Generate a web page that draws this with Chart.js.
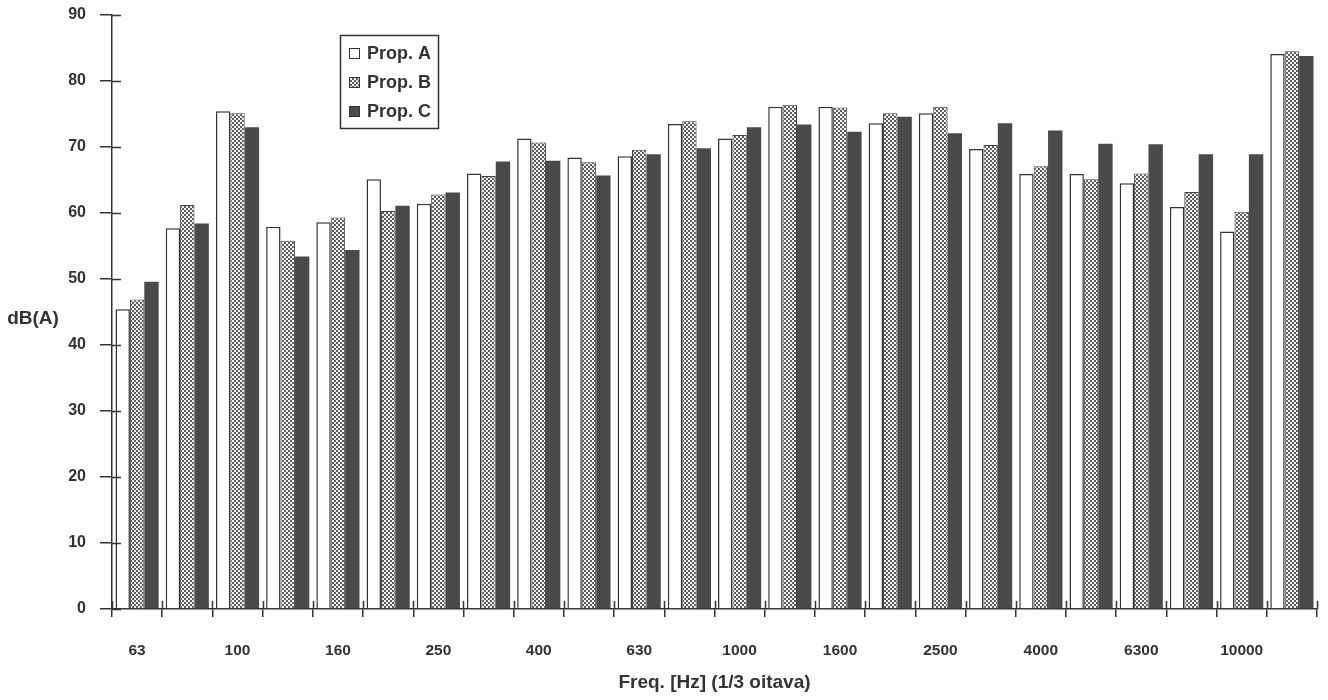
<!DOCTYPE html>
<html>
<head>
<meta charset="utf-8">
<script src="https://cdn.jsdelivr.net/npm/chart.js@4/dist/chart.umd.min.js"></script>
<style>
  html, body { margin: 0; padding: 0; background: #fff; }
</style>
</head>
<body>
<canvas id="freqcanvas" width="1328" height="700"></canvas>
<script>
// 1/3 octave bands
var categories = ['63', '80', '100', '125', '160', '200', '250', '315', '400', '500', '630', '800',
                  '1000', '1250', '1600', '2000', '2500', '3150', '4000', '5000', '6300', '8000', '10000', '12500'];
var seriesNames = ['Prop. A', 'Prop. B', 'Prop. C'];
var propA = [45.4, 57.7, 75.4, 57.9, 58.6, 65.1, 61.4, 66.0, 71.3, 68.4, 68.6, 73.5,
             71.3, 76.1, 76.1, 73.6, 75.1, 69.7, 65.9, 65.9, 64.5, 60.9, 57.2, 84.1];
var propB = [46.9, 61.2, 75.1, 55.8, 59.3, 60.3, 62.8, 65.6, 70.7, 67.7, 69.6, 73.9,
             71.8, 76.4, 76.0, 75.1, 76.1, 70.3, 67.1, 65.1, 66.0, 63.2, 60.2, 84.5];
var propC = [49.6, 58.4, 73.0, 53.4, 54.4, 61.1, 63.1, 67.8, 67.9, 65.7, 68.9, 69.8,
             73.0, 73.4, 72.3, 74.6, 72.1, 73.6, 72.5, 70.5, 70.4, 68.9, 68.9, 83.8];
var yTicks = [0, 10, 20, 30, 40, 50, 60, 70, 80, 90];

var ink = '#333';
var font = 'Liberation Sans, Arial, sans-serif';

// dotted fill for Prop. B
function dotPattern() {
    var c = document.createElement('canvas');
    c.width = 4; c.height = 4;
    var g = c.getContext('2d');
    g.fillStyle = '#5e5e5e';
    g.fillRect(0, 0, 4, 4);
    g.fillStyle = '#f2f2f2';
    g.fillRect(0, 0, 2, 2);
    g.fillRect(2, 2, 2, 2);
    return g.createPattern(c, 'repeat');
}

// tick marks that cross the axes + horizontal y title + boxed legend
var extras = {
    id: 'extras',
    afterDraw: function(chart) {
        var ctx = chart.ctx, a = chart.chartArea;
        var x = chart.scales.x, y = chart.scales.y;
        ctx.save();
        ctx.strokeStyle = ink;
        ctx.lineWidth = 1.5;
        ctx.beginPath();
        yTicks.forEach(function(v) {
            var py = Math.round(y.getPixelForValue(v)) + 0.5;
            ctx.moveTo(a.left, py);
            ctx.lineTo(a.left + 9, py);
        });
        var step = x.getPixelForValue(1) - x.getPixelForValue(0);
        for (var i = 0; i <= categories.length; i++) {
            var px = Math.round(x.getPixelForValue(i) - step / 2) + 0.5;
            ctx.moveTo(px, a.bottom);
            ctx.lineTo(px, a.bottom - 8);
        }
        ctx.stroke();

        ctx.fillStyle = ink;
        ctx.font = 'bold 19px ' + font;
        ctx.textAlign = 'center';
        ctx.textBaseline = 'middle';
        ctx.fillText('dB(A)', 33, 319);

        // legend
        ctx.lineWidth = 1.5;
        ctx.strokeRect(340.5, 35.5, 98, 93);
        ctx.font = 'bold 18px ' + font;
        ctx.textAlign = 'left';
        chart.data.datasets.forEach(function(ds, i) {
            var top = 48 + i * 29;
            ctx.fillStyle = ds.backgroundColor;
            ctx.fillRect(349, top, 11, 11);
            ctx.lineWidth = 1;
            ctx.strokeStyle = ink;
            ctx.strokeRect(349.5, top + 0.5, 10, 10);
            ctx.fillStyle = ink;
            ctx.fillText(ds.label, 367, top + 6);
        });
        ctx.restore();
    }
};

var ctx = document.getElementById('freqcanvas');
var chart = new Chart(ctx, {
    type: 'bar',
    data: {
        labels: categories,
        datasets: [
            { label: seriesNames[0], data: propA, backgroundColor: '#ffffff', borderColor: ink, borderWidth: 1.5 },
            { label: seriesNames[1], data: propB, backgroundColor: dotPattern(), borderColor: '#444', borderWidth: 1 },
            { label: seriesNames[2], data: propC, backgroundColor: '#4a4a4a', borderColor: '#4a4a4a', borderWidth: 0 }
        ]
    },
    options: {
        responsive: false,
        animation: false,
        layout: { padding: { left: 0, right: 11, top: 15, bottom: 0 } },
        datasets: { bar: { categoryPercentage: 0.86, barPercentage: 1 } },
        plugins: {
            legend: { display: false },
            tooltip: { enabled: false }
        },
        scales: {
            x: {
                afterFit: function(scale) { scale.height = 91; },
                grid: { drawOnChartArea: false, tickLength: 8, color: ink, lineWidth: 1.5 },
                border: { color: ink, width: 1.5 },
                ticks: {
                    autoSkip: false,
                    maxRotation: 0,
                    padding: 24,
                    color: ink,
                    font: { family: font, size: 15.5, weight: 'bold' },
                    callback: function(v, i) { return i % 2 === 0 ? categories[i] : ''; }
                },
                title: {
                    display: true,
                    text: 'Freq. [Hz] (1/3 oitava)',
                    color: ink,
                    font: { family: font, size: 19, weight: 'bold' },
                    padding: { top: 0, bottom: 6 }
                }
            },
            y: {
                min: 0,
                max: 90,
                afterFit: function(scale) {
                    scale.width = 112;
                    scale.paddingTop = 0;
                    scale.paddingBottom = 0;
                },
                grid: { drawOnChartArea: false, tickLength: 12, color: ink, lineWidth: 1.5 },
                border: { color: ink, width: 1.5 },
                ticks: {
                    stepSize: 10,
                    padding: 14,
                    color: ink,
                    font: { family: font, size: 16, weight: 'bold' }
                }
            }
        }
    },
    plugins: [extras]
});
</script>
</body>
</html>
